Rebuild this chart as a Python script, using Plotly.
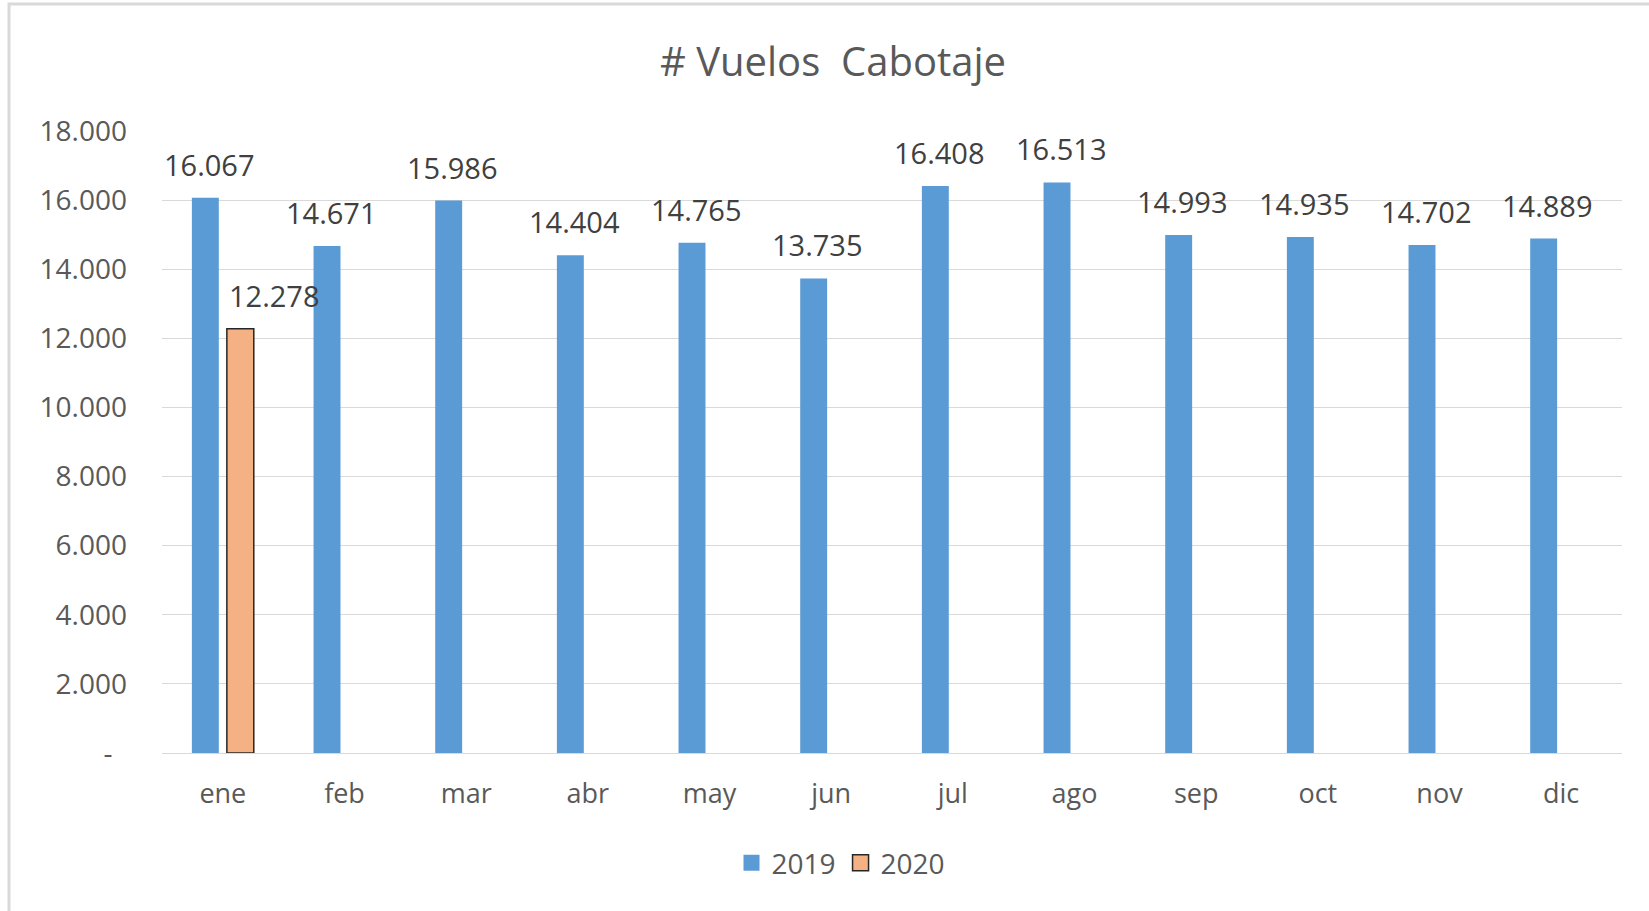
import plotly.graph_objects as go

months = ["ene", "feb", "mar", "abr", "may", "jun", "jul", "ago", "sep", "oct", "nov", "dic"]
vuelos_2019 = [16067, 14671, 15986, 14404, 14765, 13735, 16408, 16513, 14993, 14935, 14702, 14889]
vuelos_2020 = [12278, None, None, None, None, None, None, None, None, None, None, None]
y_tickvals = [0, 2000, 4000, 6000, 8000, 10000, 12000, 14000, 16000, 18000]
y_ticktext = ["-\u00a0\u00a0", "2.000", "4.000", "6.000", "8.000", "10.000", "12.000", "14.000", "16.000", "18.000"]

W, H = 1649, 911
L, R, T, B = 162, 27, 131, 158
pw, ph = W - L - R, H - T - B

FONT = "Open Sans"
TXT = "#595959"
BLUE = "#5B9BD5"
ORANGE = "#F4B183"
EDGE = "#262626"

def fmt(v):
    return f"{v:,}".replace(",", ".")

fig = go.Figure()
fig.add_trace(go.Bar(name="2019", x=months, y=vuelos_2019, showlegend=False,
                     marker=dict(color=BLUE, line=dict(width=0))))
fig.add_trace(go.Bar(name="2020", x=months, y=vuelos_2020, showlegend=False,
                     marker=dict(color=ORANGE, line=dict(color=EDGE, width=1.5))))
# legend entries with larger square swatches
fig.add_trace(go.Scatter(name="2019", x=[None], y=[None], mode="markers",
                         marker=dict(symbol="square", size=16, color=BLUE, line=dict(width=0))))
fig.add_trace(go.Scatter(name="2020", x=[None], y=[None], mode="markers",
                         marker=dict(symbol="square", size=16, color=ORANGE, line=dict(color=EDGE, width=1.5))))

annotations = []
for m, v in zip(months, vuelos_2019):
    annotations.append(dict(x=m, y=v, xref="x", yref="y", text=fmt(v), showarrow=False,
                            xanchor="center", yanchor="bottom", xshift=-13.5, yshift=12,
                            font=dict(family=FONT, size=29, color="#404040")))
for m, v in zip(months, vuelos_2020):
    if v is not None:
        annotations.append(dict(x=m, y=v, xref="x", yref="y", text=fmt(v), showarrow=False,
                                xanchor="center", yanchor="bottom", xshift=52, yshift=12,
                                font=dict(family=FONT, size=29, color="#404040")))

fig.update_layout(
    width=W, height=H,
    margin=dict(l=L, r=R, t=T, b=B, pad=0),
    paper_bgcolor="white", plot_bgcolor="white",
    barmode="group", bargap=0.425, bargroupgap=0.23,
    font=dict(family=FONT, color=TXT),
    title=dict(text="# Vuelos  Cabotaje", x=833 / W, xanchor="center", y=1 - 62 / H, yanchor="middle",
               xref="container", yref="container", font=dict(family=FONT, size=40, color=TXT)),
    showlegend=True,
    legend=dict(orientation="h", x=(841 - L) / pw, xanchor="center", y=(H - B - 863) / ph, yanchor="middle",
                font=dict(family=FONT, size=28, color=TXT), traceorder="normal", itemwidth=30),
    annotations=annotations,
    shapes=[dict(type="rect", xref="paper", yref="paper",
                 x0=(9 - L) / pw, x1=(1665 - L) / pw, y0=(H - B - 930) / ph, y1=(H - B - 4) / ph,
                 line=dict(color="#d9d9d9", width=3), fillcolor="rgba(0,0,0,0)", layer="below")],
)
fig.update_xaxes(type="category", categoryorder="array", categoryarray=months, range=[-0.5, len(months) - 0.5],
                 showgrid=False, showline=False, ticks="", tickfont=dict(family=FONT, size=27, color=TXT),
                 ticklabelstandoff=22)
fig.update_yaxes(range=[0, 18000], tickvals=y_tickvals, ticktext=y_ticktext, showgrid=True,
                 gridcolor="#d9d9d9", gridwidth=1, zeroline=True, zerolinecolor="#d9d9d9", zerolinewidth=1,
                 showline=False, ticks="", tickfont=dict(family=FONT, size=28, color=TXT),
                 ticklabelstandoff=34)

fig.write_html("out.html", config={"displayModeBar": False},
               post_script="document.body.style.margin='0';document.body.style.overflow='hidden';")
